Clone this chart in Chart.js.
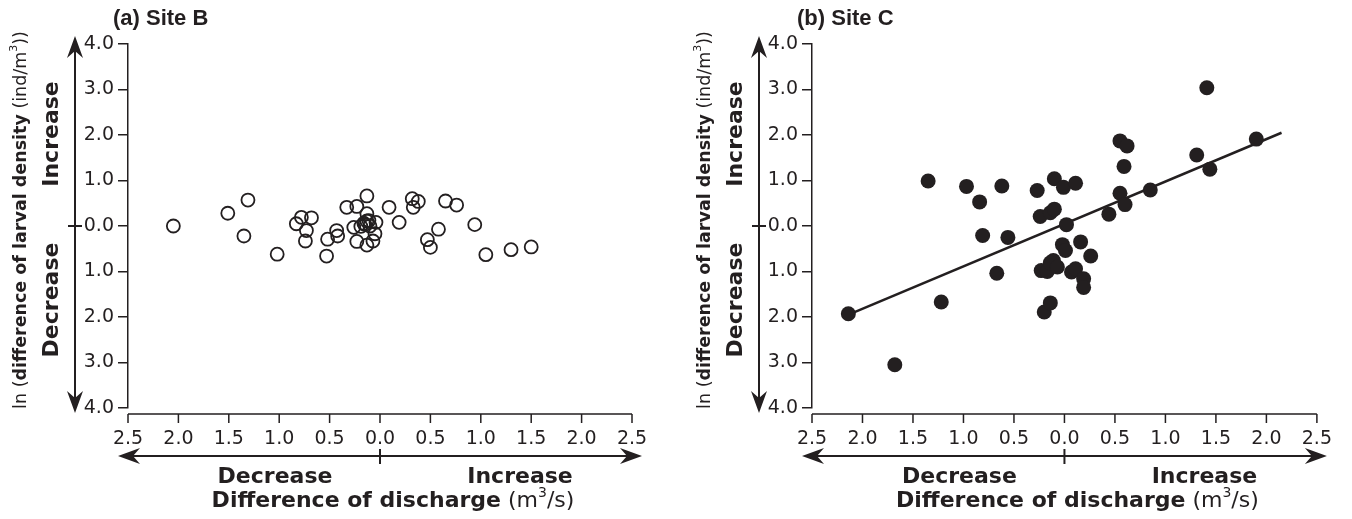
<!DOCTYPE html>
<html>
<head>
<meta charset="utf-8">
<script src="https://cdn.jsdelivr.net/npm/chart.js@4.4.1/dist/chart.umd.min.js"></script>
<style>
  body { margin: 0; background: #fff; width: 1352px; height: 519px; overflow: hidden; position: relative; }
  .panel { position: absolute; top: 0; width: 676px; height: 519px; }
</style>
</head>
<body>
<div class="panel" style="left:0"><canvas id="siteB"></canvas></div>
<div class="panel" style="left:676px"><canvas id="siteC"></canvas></div>
<script>
// Site B: difference of discharge vs ln difference of larval density (open circles)
const siteBX = [-2.05, -1.51, -1.31, -1.35, -1.02, -0.83, -0.78, -0.68, -0.73, -0.74, -0.53, -0.52, -0.43, -0.42,
  -0.33, -0.23, -0.13, -0.26, -0.23, -0.13, -0.13, -0.11, -0.19, -0.15, -0.04, -0.05, -0.07, -0.13, -0.16, -0.10,
  0.09, 0.19, 0.32, 0.33, 0.38, 0.47, 0.50, 0.58, 0.65, 0.76, 0.94, 1.05, 1.30, 1.50];
const siteBY = [0.0, 0.28, 0.57, -0.22, -0.62, 0.05, 0.19, 0.18, -0.10, -0.33, -0.66, -0.29, -0.10, -0.22,
  0.41, 0.43, 0.66, -0.03, -0.34, 0.27, 0.11, 0.12, -0.01, 0.03, 0.08, -0.17, -0.33, -0.42, 0.06, 0.0,
  0.41, 0.08, 0.60, 0.41, 0.54, -0.30, -0.47, -0.07, 0.55, 0.46, 0.03, -0.63, -0.52, -0.46];

// Site C: filled circles + fitted line
const siteCX = [-2.14, -1.68, -1.35, -1.22, -0.97, -0.84, -0.81, -0.67, -0.62, -0.56, -0.27, -0.24, -0.23, -0.17,
  -0.20, -0.14, -0.14, -0.10, -0.10, -0.11, -0.14, -0.07, -0.02, 0.01, -0.01, 0.02, 0.11, 0.16, 0.07, 0.11,
  0.19, 0.19, 0.26, 0.44, 0.55, 0.62, 0.59, 0.55, 0.60, 0.85, 1.31, 1.41, 1.44, 1.90];
const siteCY = [-1.93, -3.05, 0.99, -1.67, 0.87, 0.53, -0.21, -1.04, 0.88, -0.25, 0.78, 0.21, -0.98, -1.00,
  -1.89, -1.69, 0.29, 0.37, 1.04, -0.76, -0.81, -0.90, -0.41, -0.54, 0.85, 0.03, 0.94, -0.35, -1.01, -0.94,
  -1.16, -1.35, -0.66, 0.26, 1.87, 1.76, 1.31, 0.72, 0.47, 0.79, 1.56, 3.04, 1.25, 1.91];
const fitX = [-2.12, 2.15];
const fitY = [-1.93, 2.05];

const ink = '#231f20';
const tickFont = { family: 'DejaVu Sans', size: 19 };

function head(ctx, x, y, ang) {
  ctx.save();
  ctx.translate(x, y);
  ctx.rotate(ang);
  ctx.beginPath();
  ctx.moveTo(0, 0);
  ctx.lineTo(-22, -8);
  ctx.lineTo(-15, 0);
  ctx.lineTo(-22, 8);
  ctx.closePath();
  ctx.fill();
  ctx.restore();
}

function runs(ctx, parts, cx, cy) {
  let total = 0;
  parts.forEach(p => { ctx.font = p.f; p.w = ctx.measureText(p.t).width; total += p.w; });
  let xx = cx - total / 2;
  parts.forEach(p => { ctx.font = p.f; ctx.fillText(p.t, xx, cy + (p.dy || 0)); xx += p.w; });
}

const decor = {
  id: 'decor',
  afterDraw(chart, args, opts) {
    const { ctx, chartArea: a, scales: { x, y } } = chart;
    const x0 = x.getPixelForValue(0), y0 = y.getPixelForValue(0);
    ctx.save();
    ctx.strokeStyle = ink;
    ctx.fillStyle = ink;
    ctx.lineWidth = 1.5;

    // detached x axis line with downward ticks
    const ax = a.bottom + 6;
    ctx.beginPath();
    ctx.moveTo(a.left, ax);
    ctx.lineTo(a.right, ax);
    x.ticks.forEach(t => {
      const px = x.getPixelForValue(t.value);
      ctx.moveTo(px, ax);
      ctx.lineTo(px, ax + 9);
    });
    ctx.stroke();

    // horizontal double arrow
    ctx.lineWidth = 2;
    const hy = 456, hl = a.left - 10, hr = a.right + 10;
    ctx.beginPath();
    ctx.moveTo(hl + 14, hy); ctx.lineTo(hr - 14, hy);
    ctx.moveTo(x0, hy - 7); ctx.lineTo(x0, hy + 8);
    ctx.stroke();
    head(ctx, hl, hy, Math.PI);
    head(ctx, hr, hy, 0);

    // vertical double arrow
    const vx = a.left - 53, vt = a.top - 8, vb = a.bottom + 5;
    ctx.beginPath();
    ctx.moveTo(vx, vt + 14); ctx.lineTo(vx, vb - 14);
    ctx.moveTo(vx - 7, y0); ctx.lineTo(vx + 7, y0);
    ctx.stroke();
    head(ctx, vx, vt, -Math.PI / 2);
    head(ctx, vx, vb, Math.PI / 2);

    ctx.textBaseline = 'middle';
    ctx.textAlign = 'center';
    ctx.font = 'bold 22px "DejaVu Sans"';
    ctx.fillText('Decrease', x0 - 105, 477);
    ctx.fillText('Increase', x0 + 140, 477);

    ctx.textAlign = 'left';
    runs(ctx, [
      { t: 'Difference of discharge', f: 'bold 22px "DejaVu Sans"' },
      { t: ' (m', f: '22px "DejaVu Sans"' },
      { t: '3', f: '14px "DejaVu Sans"', dy: -8 },
      { t: '/s)', f: '22px "DejaVu Sans"' }
    ], x0 + 13, 501);

    // rotated left labels
    ctx.save();
    ctx.translate(a.left - 76, 0);
    ctx.rotate(-Math.PI / 2);
    ctx.textAlign = 'center';
    ctx.font = 'bold 22px "DejaVu Sans"';
    ctx.fillText('Increase', -134, 0);
    ctx.fillText('Decrease', -300, 0);
    ctx.restore();

    ctx.save();
    ctx.translate(a.left - 107, 220);
    ctx.rotate(-Math.PI / 2);
    ctx.textAlign = 'left';
    runs(ctx, [
      { t: 'ln (', f: '17.5px "DejaVu Sans"' },
      { t: 'difference of larval density', f: 'bold 17.5px "DejaVu Sans"' },
      { t: ' (ind/m', f: '17.5px "DejaVu Sans"' },
      { t: '3', f: '11px "DejaVu Sans"', dy: -7 },
      { t: '))', f: '17.5px "DejaVu Sans"' }
    ], 0, 0);
    ctx.restore();

    ctx.textAlign = 'left';
    ctx.font = 'bold 22px "Liberation Sans"';
    ctx.fillText(opts.title, a.left - 15, 19);
    ctx.restore();
  }
};

function makeChart(id, title, datasets, padLeft, padRight) {
  new Chart(document.getElementById(id), {
    type: 'scatter',
    data: { datasets },
    plugins: [decor],
    options: {
      responsive: true,
      maintainAspectRatio: false,
      animation: false,
      devicePixelRatio: 1,
      layout: { padding: { left: padLeft, right: padRight, top: 44, bottom: 71 } },
      plugins: {
        legend: { display: false },
        tooltip: { enabled: false },
        decor: { title }
      },
      scales: {
        x: {
          type: 'linear', min: -2.5, max: 2.5,
          afterFit: s => { s.height = 40; },
          grid: { display: false, drawTicks: false },
          border: { display: false },
          ticks: { stepSize: 0.5, padding: 20, color: ink, font: tickFont, maxRotation: 0,
            callback: v => Math.abs(v).toFixed(1) }
        },
        y: {
          type: 'linear', min: -4, max: 4,
          afterFit: s => { s.width = 60; },
          grid: { drawOnChartArea: false, drawTicks: true, tickLength: 10, color: ink, lineWidth: 1.5 },
          border: { display: true, color: ink, width: 1.5 },
          ticks: { stepSize: 1, padding: 4, color: ink, font: tickFont,
            callback: v => Math.abs(v).toFixed(1) }
        }
      }
    }
  });
}

const toPts = (xs, ys) => xs.map((v, i) => ({ x: v, y: ys[i] }));

makeChart('siteB', '(a) Site B', [{
  data: toPts(siteBX, siteBY),
  pointRadius: 6.5,
  pointBorderWidth: 1.8,
  pointBorderColor: ink,
  pointBackgroundColor: 'rgba(0,0,0,0)'
}], 68, 44);

makeChart('siteC', '(b) Site C', [{
  data: toPts(siteCX, siteCY),
  pointRadius: 7.5,
  pointBorderWidth: 0,
  pointBackgroundColor: ink
}, {
  data: toPts(fitX, fitY),
  showLine: true,
  borderColor: ink,
  borderWidth: 2.5,
  pointRadius: 0
}], 76, 28);
</script>
</body>
</html>
